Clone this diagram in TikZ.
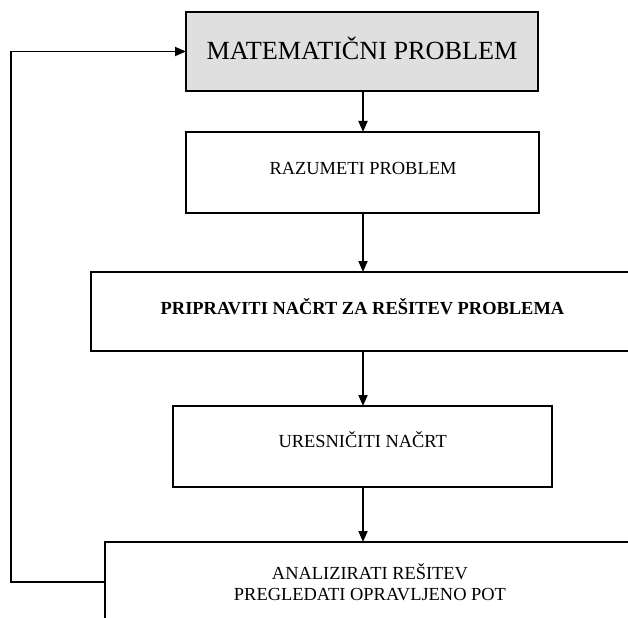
\documentclass[tikz,border=0pt]{standalone}
\usepackage{fontspec}
\setmainfont{Liberation Serif}
\usetikzlibrary{arrows.meta}
\definecolor{boxgray}{RGB}{223,223,223}
\tikzset{
  stepbox/.style={draw=black, line width=2bp, inner sep=0pt, outer sep=0pt},
  flow/.style={draw=black, line width=1.8bp, -{Triangle[length=11bp,width=9bp]}},
  bigtext/.style={anchor=base, inner sep=0pt, font=\fontsize{26.3}{30}\selectfont},
  smalltext/.style={anchor=base, inner sep=0pt, font=\fontsize{18.5}{21}\selectfont},
}
\begin{document}
\begin{tikzpicture}[x=1bp, y=-1bp]
  \useasboundingbox (0,0) rectangle (628,618);
  \fill[white] (0,0) rectangle (628,618);
  \clip (0,0) rectangle (628,618);

  % boxes of the flow
  \node[stepbox, fill=boxgray, minimum width=352bp, minimum height=79bp] (b1) at (362,51.5) {};
  \node[stepbox, minimum width=353bp, minimum height=81bp] (b2) at (362.5,172.5) {};
  \node[stepbox, minimum width=544bp, minimum height=79bp] (b3) at (363,311.5) {};
  \node[stepbox, minimum width=379bp, minimum height=81bp] (b4) at (362.5,446.5) {};
  \node[stepbox, minimum width=530bp, minimum height=80bp] (b5) at (370,582) {};

  % box texts
  \node[bigtext] (t1) at (362,60) {MATEMATIČNI PROBLEM};
  \node[smalltext] (t2) at (363,175) {RAZUMETI PROBLEM};
  \node[smalltext, font=\fontsize{18.5}{21}\selectfont\bfseries] (t3) at (362.5,314) {PRIPRAVITI NAČRT ZA REŠITEV PROBLEMA};
  \node[smalltext] (t4) at (362.7,447) {URESNIČITI NAČRT};
  \node[smalltext] (t5a) at (370,579) {ANALIZIRATI REŠITEV};
  \node[smalltext] (t5b) at (370,600) {PREGLEDATI OPRAVLJENO POT};

  % downward connectors
  \coordinate (c) at (363,0);
  \draw[flow] (c |- b1.south) -- (c |- b2.north);
  \draw[flow] (c |- b2.south) -- (c |- b3.north);
  \draw[flow] (c |- b3.south) -- (c |- b4.north);
  \draw[flow] (c |- b4.south) -- (c |- b5.north);

  % feedback loop
  \coordinate (loopx) at (11,0);
  \draw[flow] (b5.west) -- (loopx |- b5.west) -- (loopx |- b1.west) -- (b1.west);
\end{tikzpicture}
\end{document}
